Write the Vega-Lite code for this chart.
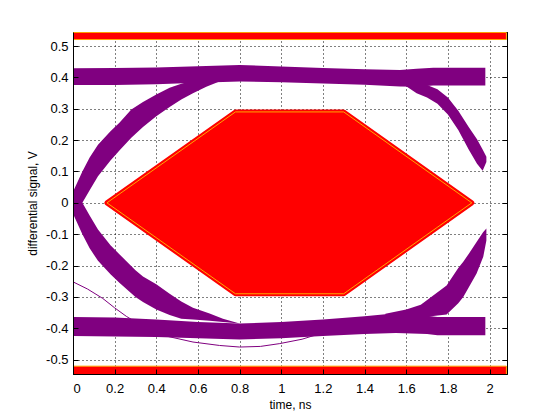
{
  "$schema": "https://vega.github.io/schema/vega-lite/v6.json",
  "width": 434,
  "height": 342,
  "autosize": "none",
  "padding": {"left": 73, "top": 32, "right": 53, "bottom": 46},
  "background": "white",
  "config": {
    "view": {"stroke": "black", "strokeWidth": 1},
    "font": "Liberation Sans",
    "axis": {"labelFont": "Liberation Sans", "titleFont": "Liberation Sans", "labelColor": "black", "titleColor": "black", "titleFontWeight": "normal", "domainColor": "black", "tickColor": "black"}
  },
  "datasets": {
    "redband": [
      {"t": 0, "t2": 2.081, "v": 0.521, "v2": 0.5435},
      {"t": 0, "t2": 2.081, "v": -0.521, "v2": -0.6}
    ],
    "mask": [
      {"t": 0.163, "v": 0, "v2": 0},
      {"t": 0.78, "v": 0.29, "v2": -0.29},
      {"t": 1.3, "v": 0.29, "v2": -0.29},
      {"t": 1.915, "v": 0, "v2": 0}
    ],
    "bands": [
      {"g": "top", "t": 0, "lo": 0.376, "hi": 0.429},
      {"g": "top", "t": 0.2, "lo": 0.376, "hi": 0.43},
      {"g": "top", "t": 0.4, "lo": 0.378, "hi": 0.432},
      {"g": "top", "t": 0.6, "lo": 0.383, "hi": 0.436},
      {"g": "top", "t": 0.8, "lo": 0.387, "hi": 0.44},
      {"g": "top", "t": 1.0, "lo": 0.385, "hi": 0.435},
      {"g": "top", "t": 1.2, "lo": 0.381, "hi": 0.43},
      {"g": "top", "t": 1.4, "lo": 0.377, "hi": 0.426},
      {"g": "top", "t": 1.57, "lo": 0.371, "hi": 0.424},
      {"g": "top", "t": 1.65, "lo": 0.37, "hi": 0.428},
      {"g": "top", "t": 1.73, "lo": 0.374, "hi": 0.431},
      {"g": "top", "t": 1.98, "lo": 0.374, "hi": 0.431},
      {"g": "bot", "t": 0, "lo": -0.425, "hi": -0.364},
      {"g": "bot", "t": 0.2, "lo": -0.426, "hi": -0.366},
      {"g": "bot", "t": 0.4, "lo": -0.428, "hi": -0.372},
      {"g": "bot", "t": 0.6, "lo": -0.432, "hi": -0.38},
      {"g": "bot", "t": 0.8, "lo": -0.436, "hi": -0.385},
      {"g": "bot", "t": 1.0, "lo": -0.432, "hi": -0.38},
      {"g": "bot", "t": 1.2, "lo": -0.425, "hi": -0.372},
      {"g": "bot", "t": 1.4, "lo": -0.418, "hi": -0.362},
      {"g": "bot", "t": 1.55, "lo": -0.415, "hi": -0.352},
      {"g": "bot", "t": 1.7, "lo": -0.418, "hi": -0.36},
      {"g": "bot", "t": 1.75, "lo": -0.422, "hi": -0.364},
      {"g": "bot", "t": 1.98, "lo": -0.422, "hi": -0.364},
      {"g": "tl", "t": 0, "lo": -0.045, "hi": 0.035},
      {"g": "tl", "t": 0.045, "lo": 0.0, "hi": 0.1},
      {"g": "tl", "t": 0.08, "lo": 0.04, "hi": 0.145},
      {"g": "tl", "t": 0.12, "lo": 0.085, "hi": 0.185},
      {"g": "tl", "t": 0.18, "lo": 0.135, "hi": 0.228},
      {"g": "tl", "t": 0.224, "lo": 0.168, "hi": 0.256},
      {"g": "tl", "t": 0.28, "lo": 0.208, "hi": 0.298},
      {"g": "tl", "t": 0.336, "lo": 0.242, "hi": 0.322},
      {"g": "tl", "t": 0.4, "lo": 0.276, "hi": 0.346},
      {"g": "tl", "t": 0.464, "lo": 0.306, "hi": 0.367},
      {"g": "tl", "t": 0.52, "lo": 0.33, "hi": 0.38},
      {"g": "tl", "t": 0.576, "lo": 0.35, "hi": 0.39},
      {"g": "tl", "t": 0.64, "lo": 0.37, "hi": 0.39},
      {"g": "tl", "t": 0.7, "lo": 0.386, "hi": 0.39},
      {"g": "bl", "t": 0, "lo": -0.035, "hi": 0.045},
      {"g": "bl", "t": 0.045, "lo": -0.1, "hi": 0.0},
      {"g": "bl", "t": 0.08, "lo": -0.145, "hi": -0.04},
      {"g": "bl", "t": 0.12, "lo": -0.185, "hi": -0.085},
      {"g": "bl", "t": 0.18, "lo": -0.228, "hi": -0.135},
      {"g": "bl", "t": 0.224, "lo": -0.256, "hi": -0.165},
      {"g": "bl", "t": 0.3, "lo": -0.3, "hi": -0.215},
      {"g": "bl", "t": 0.336, "lo": -0.316, "hi": -0.235},
      {"g": "bl", "t": 0.4, "lo": -0.34, "hi": -0.26},
      {"g": "bl", "t": 0.464, "lo": -0.358, "hi": -0.29},
      {"g": "bl", "t": 0.52, "lo": -0.37, "hi": -0.315},
      {"g": "bl", "t": 0.576, "lo": -0.372, "hi": -0.335},
      {"g": "bl", "t": 0.656, "lo": -0.376, "hi": -0.353},
      {"g": "bl", "t": 0.72, "lo": -0.38, "hi": -0.37},
      {"g": "bl", "t": 0.8, "lo": -0.385, "hi": -0.385},
      {"g": "tr", "t": 1.6, "lo": 0.372, "hi": 0.38},
      {"g": "tr", "t": 1.65, "lo": 0.35, "hi": 0.38},
      {"g": "tr", "t": 1.7, "lo": 0.336, "hi": 0.376},
      {"g": "tr", "t": 1.75, "lo": 0.316, "hi": 0.362},
      {"g": "tr", "t": 1.8, "lo": 0.282, "hi": 0.336},
      {"g": "tr", "t": 1.85, "lo": 0.232, "hi": 0.294},
      {"g": "tr", "t": 1.9, "lo": 0.17, "hi": 0.242},
      {"g": "tr", "t": 1.94, "lo": 0.125, "hi": 0.203},
      {"g": "tr", "t": 1.967, "lo": 0.102, "hi": 0.17},
      {"g": "tr", "t": 1.985, "lo": 0.13, "hi": 0.147},
      {"g": "br", "t": 1.5, "lo": -0.362, "hi": -0.354},
      {"g": "br", "t": 1.6, "lo": -0.366, "hi": -0.34},
      {"g": "br", "t": 1.67, "lo": -0.366, "hi": -0.325},
      {"g": "br", "t": 1.72, "lo": -0.362, "hi": -0.3},
      {"g": "br", "t": 1.794, "lo": -0.356, "hi": -0.264},
      {"g": "br", "t": 1.85, "lo": -0.32, "hi": -0.208},
      {"g": "br", "t": 1.874, "lo": -0.3, "hi": -0.188},
      {"g": "br", "t": 1.9, "lo": -0.27, "hi": -0.163},
      {"g": "br", "t": 1.938, "lo": -0.225, "hi": -0.125},
      {"g": "br", "t": 1.97, "lo": -0.172, "hi": -0.093},
      {"g": "br", "t": 1.985, "lo": -0.12, "hi": -0.082}
    ],
    "trace": [
      {"t": 0, "v": -0.252},
      {"t": 0.07, "v": -0.275},
      {"t": 0.143, "v": -0.305},
      {"t": 0.2, "v": -0.335},
      {"t": 0.256, "v": -0.362},
      {"t": 0.35, "v": -0.4},
      {"t": 0.448, "v": -0.425},
      {"t": 0.576, "v": -0.444},
      {"t": 0.704, "v": -0.455},
      {"t": 0.8, "v": -0.46},
      {"t": 0.9, "v": -0.458},
      {"t": 0.993, "v": -0.449},
      {"t": 1.1, "v": -0.435},
      {"t": 1.187, "v": -0.417},
      {"t": 1.3, "v": -0.4}
    ]
  },
  "layer": [
    {
      "data": {"name": "trace"},
      "mark": {"type": "point", "opacity": 0},
      "encoding": {
        "x": {"field": "t", "type": "quantitative", "scale": {"domain": [0, 2.084], "nice": false, "zero": false},
          "axis": {"orient": "top", "values": [0, 0.2, 0.4, 0.6, 0.8, 1, 1.2, 1.4, 1.6, 1.8, 2], "labels": false, "title": null, "grid": true, "gridColor": "black", "gridDash": [1, 3], "gridOpacity": 1, "gridWidth": 1, "tickSize": -5, "domain": true, "zindex": 0}},
        "y": {"field": "v", "type": "quantitative", "scale": {"domain": [-0.546, 0.545], "nice": false, "zero": false},
          "axis": {"orient": "right", "values": [-0.5, -0.4, -0.3, -0.2, -0.1, 0, 0.1, 0.2, 0.3, 0.4, 0.5], "labels": false, "title": null, "grid": true, "gridColor": "black", "gridDash": [1, 3], "gridOpacity": 1, "gridWidth": 1, "tickSize": -5, "domain": true, "zindex": 0}}
      }
    },
    {
      "data": {"name": "redband"},
      "mark": {"type": "rect", "fill": "#FF0000", "stroke": "#FFA500", "strokeWidth": 1, "clip": true},
      "encoding": {
        "x": {"field": "t", "type": "quantitative", "axis": null},
        "x2": {"field": "t2"},
        "y": {"field": "v", "type": "quantitative", "axis": null},
        "y2": {"field": "v2"}
      }
    },
    {
      "data": {"name": "bands"},
      "mark": {"type": "area", "color": "#800080", "clip": true},
      "encoding": {
        "x": {"field": "t", "type": "quantitative", "axis": null},
        "y": {"field": "lo", "type": "quantitative", "axis": null},
        "y2": {"field": "hi"},
        "detail": {"field": "g"}
      }
    },
    {
      "data": {"name": "trace"},
      "mark": {"type": "line", "color": "#800080", "strokeWidth": 1, "clip": true},
      "encoding": {
        "x": {"field": "t", "type": "quantitative", "axis": null},
        "y": {"field": "v", "type": "quantitative", "axis": null}
      }
    },
    {
      "data": {"name": "mask"},
      "mark": {"type": "area", "fill": "#FF0000", "stroke": "#FF0000", "strokeWidth": 5, "strokeJoin": "round"},
      "encoding": {
        "x": {"field": "t", "type": "quantitative", "axis": null},
        "y": {"field": "v", "type": "quantitative", "axis": null},
        "y2": {"field": "v2"}
      }
    },
    {
      "data": {"name": "mask"},
      "mark": {"type": "area", "fillOpacity": 0, "stroke": "#FFA500", "strokeWidth": 1},
      "encoding": {
        "x": {"field": "t", "type": "quantitative", "axis": null},
        "y": {"field": "v", "type": "quantitative", "axis": null},
        "y2": {"field": "v2"}
      }
    },
    {
      "data": {"name": "trace"},
      "mark": {"type": "point", "opacity": 0},
      "encoding": {
        "x": {"field": "t", "type": "quantitative",
          "axis": {"orient": "bottom", "values": [0, 0.2, 0.4, 0.6, 0.8, 1, 1.2, 1.4, 1.6, 1.8, 2], "labelExpr": "'' + datum.value", "labelFontSize": 13, "labelPadding": 13, "tickSize": -5, "grid": false, "domain": true, "zindex": 1, "title": "time, ns", "titleFontSize": 12, "titlePadding": 4}},
        "y": {"field": "v", "type": "quantitative",
          "axis": {"orient": "left", "values": [-0.5, -0.4, -0.3, -0.2, -0.1, 0, 0.1, 0.2, 0.3, 0.4, 0.5], "labelExpr": "'' + datum.value", "labelFontSize": 13, "labelPadding": 10, "tickSize": -5, "grid": false, "domain": true, "zindex": 1, "title": "differential signal, V", "titleFontSize": 12, "titlePadding": 6}}
      }
    }
  ],
  "resolve": {"axis": {"x": "independent", "y": "independent"}}
}
